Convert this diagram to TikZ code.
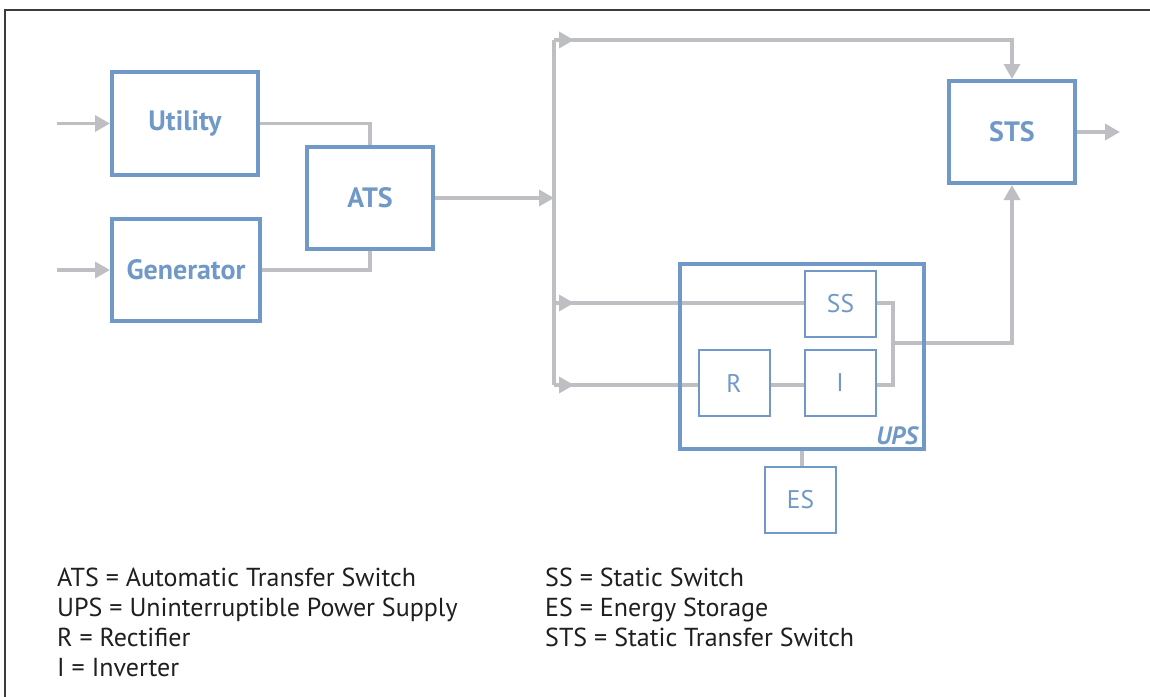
\documentclass[tikz,border=0pt]{standalone}
\usepackage{fontspec}
\setmainfont{PT Sans}
\usetikzlibrary{arrows.meta,calc}
\definecolor{boxblue}{RGB}{112,153,199}
\definecolor{linegray}{RGB}{190,191,194}
\definecolor{framegray}{RGB}{60,60,60}
\pgfdeclarelayer{bg}
\pgfsetlayers{bg,main}
\tikzset{
  bigbox/.style={draw=boxblue, line width=4pt, fill=white, inner sep=0pt, text=boxblue,
    font=\fontsize{28}{30}\selectfont\bfseries},
  smallbox/.style={draw=boxblue, line width=2pt, fill=white, inner sep=0pt, text=boxblue,
    font=\fontsize{25.5}{27}\selectfont},
  gline/.style={draw=linegray, line width=3.5pt},
  garrow/.style={gline, -{Triangle[length=15pt,width=16pt]}},
  legend/.style={anchor=base west, inner sep=0pt, font=\fontsize{26}{28}\selectfont, text=black!88},
}
\begin{document}
\begin{tikzpicture}[x=1pt,y=-1pt]
\useasboundingbox (0,0) rectangle (1150,696);
\draw[framegray, line width=1.5pt] (5,697) -- (5,10) -- (1151,10);

% boxes
\node[bigbox, minimum width=146pt, minimum height=103pt] (util) at (185,123.5) {\raisebox{-2pt}{Utility}};
\node[bigbox, minimum width=148pt, minimum height=102pt] (gen) at (186,270) {Generator};
\node[bigbox, minimum width=126pt, minimum height=102pt] (ats) at (370,198) {ATS};
\node[bigbox, minimum width=126pt, minimum height=102pt] (sts) at (1012,132) {STS};
\node[draw=boxblue, line width=4pt, inner sep=0pt, minimum width=244pt, minimum height=185pt] (ups) at (802,356.5) {};
\node[smallbox, minimum width=71pt, minimum height=66pt] (ss) at (840.5,304) {SS};
\node[smallbox, minimum width=71pt, minimum height=66pt] (r) at (734,383) {R};
\node[smallbox, minimum width=71pt, minimum height=66pt] (i) at (840,383) {I};
\node[smallbox, minimum width=71pt, minimum height=66pt] (es) at (800.5,500) {ES};
\node[anchor=base east, inner sep=0pt, text=boxblue, font=\fontsize{25}{27}\selectfont\bfseries\itshape] (upslbl) at (918,444) {UPS};

% coordinates
\coordinate (in1) at (57,123.5);
\coordinate (in2) at (57,270);
\coordinate (busmid) at (554,198);
\coordinate (bustop) at (554,40);
\coordinate (busss) at (554,303);
\coordinate (busr) at (554,385);
\coordinate (tipt) at (574,40);
\coordinate (tipss) at (574,303);
\coordinate (tipr) at (574,385);
\coordinate (merge) at (893,343);
\coordinate (out) at (1120,132);

\begin{pgfonlayer}{bg}
\draw[garrow] (in1) -- (util.west);
\draw[garrow] (in2) -- (gen.west);
\draw[gline] (util.east) -| (ats.north);
\draw[gline] (gen.east) -| (ats.south);
\draw[garrow] (ats.east) -- (busmid);
\draw[gline] (bustop) -- (busr);
\draw[garrow] (bustop) -| (sts.north);
\draw[garrow] (bustop) -- (tipt);
\draw[gline] (busss) -- (ss.west |- busss);
\draw[garrow] (busss) -- (tipss);
\draw[gline] (busr) -- (r.west |- busr);
\draw[garrow] (busr) -- (tipr);
\draw[gline] (r.east |- busr) -- (i.west |- busr);
\draw[gline] (ss.east |- busss) -| (merge) |- (i.east |- busr);
\draw[garrow] (merge) -| (sts.south);
\draw[garrow] (sts.east) -- (out);
\draw[gline] (ups.south -| 802,0) -- (es.north -| 802,0);
\end{pgfonlayer}

% legend
\node[legend] (l1) at (57,586) {ATS = Automatic Transfer Switch};
\node[legend] (l2) at (57,616) {UPS = Uninterruptible Power Supply};
\node[legend] (l3) at (57,646) {R = Rectifier};
\node[legend] (l4) at (57,676) {I = Inverter};
\node[legend] (l5) at (545,586) {SS = Static Switch};
\node[legend] (l6) at (545,616) {ES = Energy Storage};
\node[legend] (l7) at (545,646) {STS = Static Transfer Switch};
\end{tikzpicture}
\end{document}
